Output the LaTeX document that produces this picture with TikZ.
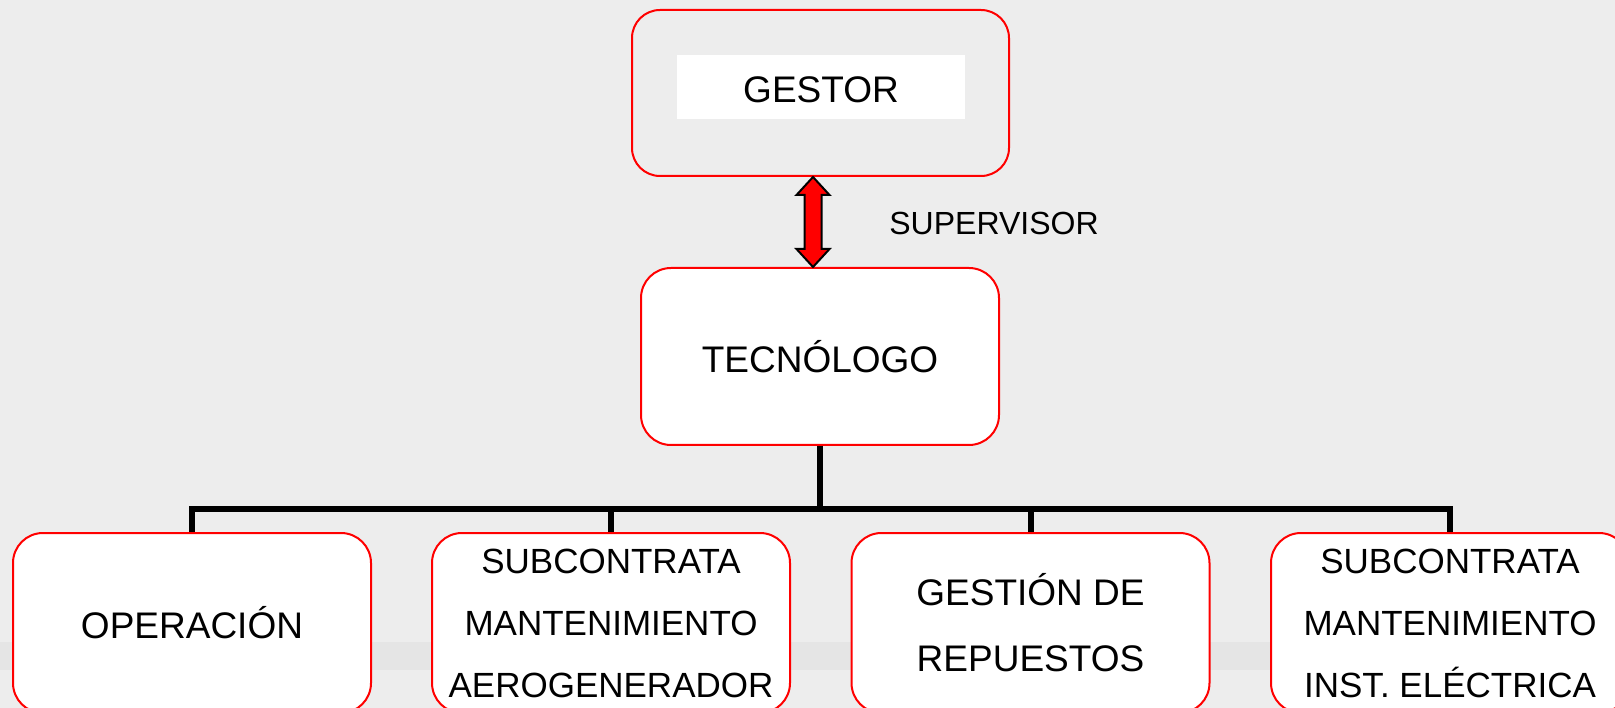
\documentclass[tikz,border=0pt]{standalone}
\usepackage{fontspec}
\setmainfont{Liberation Sans}
\usepackage{tikz}
\usetikzlibrary{calc}

\definecolor{fondo}{HTML}{EDEDED}
\definecolor{franja}{HTML}{E5E5E5}

\tikzset{
	caja/.style = {draw = red, line width = 2pt, fill = white, rounded corners = 30pt, minimum width = 358pt, align = center, inner sep = 0pt},
	arbol/.style = {line width = 6pt, black},
	doble/.style = {draw = black, line width = 2pt, fill = red, line join = miter}
}

\begin{document}
\begin{tikzpicture}[x = 1pt, y = -1pt]
			\useasboundingbox (0,0) rectangle (1615,708);
			\clip (0,0) rectangle (1615,708);
			\fill[fondo] (0,0) rectangle (1615,708);
			\fill[franja] (0,642) rectangle (1615,670);
			
			\node[caja, fill = none, minimum width = 377pt, minimum height = 166pt, rounded corners = 28pt] (gestor) at (820.5, 93) {};
			\node[fill = white, minimum width = 288pt, minimum height = 64pt] (gestorbox) at (821, 87) {};
			\node[font = \fontsize{37}{44}\selectfont] (gestortxt) at (821, 90) {GESTOR};
			\node[caja, minimum height = 177pt, font = \fontsize{37}{44}\selectfont] (teco) at (820, 356.5) {TECNÓLOGO};
			\node[font = \fontsize{32}{38}\selectfont] (super) at (994, 223) {SUPERVISOR};
			
			\node[caja, minimum height = 180pt, font = \fontsize{37}{44}\selectfont] (oper) at (192, 623) {OPERACIÓN};
			\node[caja, minimum height = 180pt, font = \fontsize{35}{62}\selectfont] (aero) at (611, 623) {SUBCONTRATA\\MANTENIMIENTO\\AEROGENERADOR};
			\node[caja, minimum height = 180pt, font = \fontsize{37}{66}\selectfont] (repu) at (1030.5, 623) {GESTIÓN DE\\REPUESTOS};
			\node[caja, minimum height = 180pt, font = \fontsize{35}{62}\selectfont] (inst) at (1450, 623) {SUBCONTRATA\\MANTENIMIENTO\\INST. ELÉCTRICA};
			
			\coordinate (jn) at (teco.south |- 0,509);
			\draw[arbol] (teco.south) -- (jn);
			\draw[arbol] (oper.north) |- (jn) -| (inst.north);
			\draw[arbol] (aero.north) -- (aero.north |- jn);
			\draw[arbol] (repu.north) -- (repu.north |- jn);
			
			\coordinate (tipU) at ($(gestor.south)+(-7.5,0)$);
			\coordinate (tipD) at ($(teco.north)+(-7,0)$);
			\draw[doble] (tipU) -- ++(16.5,18) -- ++(-8,0) -- ($(tipD)+(8.5,-18)$) -- ++(8,0) -- (tipD) -- ++(-16.5,-18) -- ++(8,0) -- ($(tipU)+(-8.5,18)$) -- ++(-8,0) -- cycle;
\end{tikzpicture}
\end{document}
